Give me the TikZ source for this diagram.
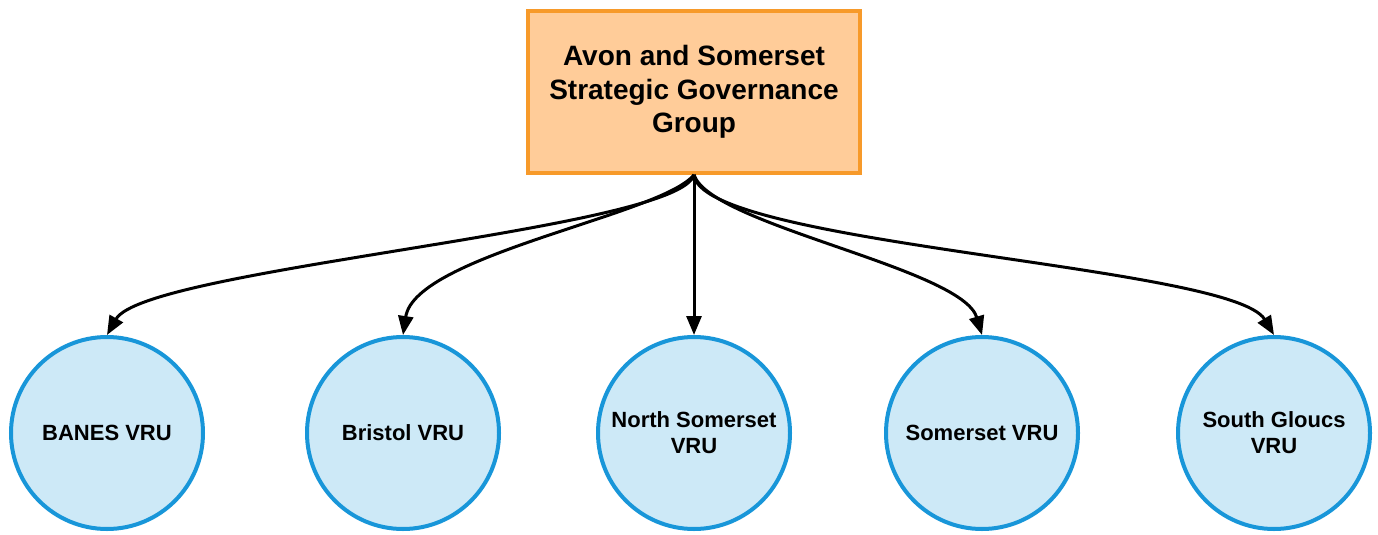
\documentclass[tikz,border=0pt]{standalone}
\usepackage{fontspec}
\setmainfont{Liberation Sans}
\usetikzlibrary{arrows.meta}
\definecolor{boxfill}{RGB}{255,204,153}
\definecolor{boxline}{RGB}{247,154,42}
\definecolor{vrufill}{RGB}{205,233,247}
\definecolor{vruline}{RGB}{24,150,217}
\begin{document}
\begin{tikzpicture}[x=1pt,y=-1pt,
  govbox/.style={draw=boxline,fill=boxfill,line width=3.5pt,minimum width=332pt,
    minimum height=162pt,inner sep=0pt,align=center,
    font=\fontsize{28}{33.5}\selectfont\bfseries},
  vru/.style={circle,draw=vruline,fill=vrufill,line width=4pt,minimum size=192pt,
    inner sep=0pt,align=center,font=\fontsize{22}{26}\selectfont\bfseries},
  link/.style={line width=3pt,-{Triangle[length=19pt,width=15pt]}}]
\useasboundingbox (0,0) rectangle (1378,535);

\node[govbox] (top) at (694,92) {Avon and Somerset\\Strategic Governance\\Group};

\node[vru] (banes) at (107,433) {BANES VRU};
\node[vru] (bristol) at (403,433) {Bristol VRU};
\node[vru] (nsom) at (694,433) {North Somerset\\VRU};
\node[vru] (som) at (982,433) {Somerset VRU};
\node[vru] (sglo) at (1274,433) {South Gloucs\\VRU};

% curved connectors fanning out from the bottom of the group box
\draw[link] (top.south) .. controls (680,230) and (145,268) .. (banes.north);
\draw[link] (top.south) .. controls (662,215) and (415,255) .. (bristol.north);
\draw[link] (top.south) -- (nsom.north);
\draw[link] (top.south) .. controls (710,225) and (962,268) .. (som.north);
\draw[link] (top.south) .. controls (700,245) and (1232,265) .. (sglo.north);
\end{tikzpicture}
\end{document}
